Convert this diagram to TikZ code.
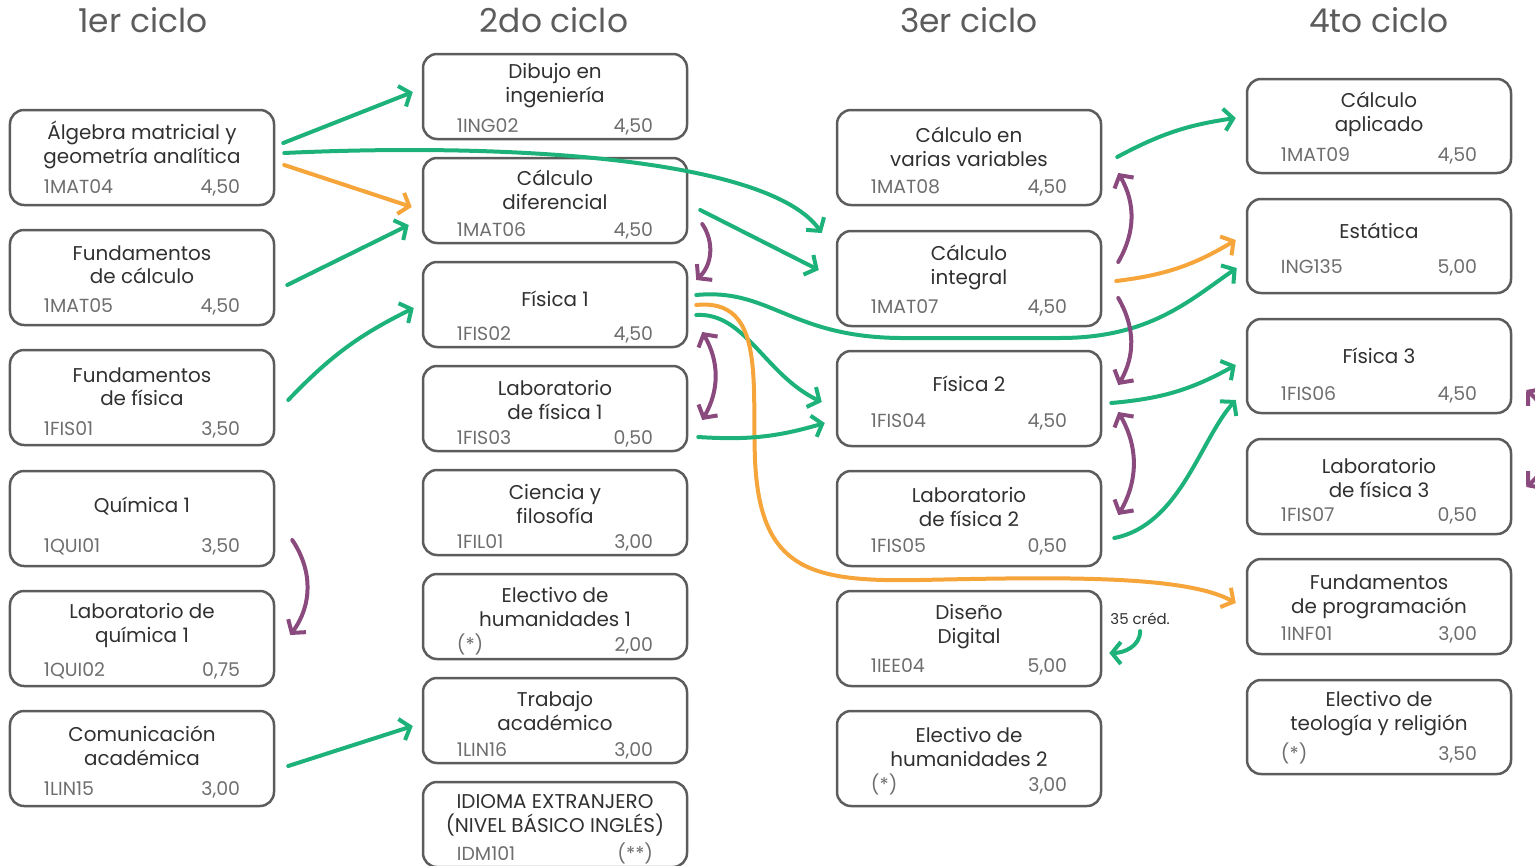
\documentclass[tikz,border=0pt]{standalone}
\usepackage{fontspec}
\setmainfont{Poppins}
\usetikzlibrary{arrows.meta}

\definecolor{borde}{HTML}{5C5C5C}
\definecolor{textoosc}{HTML}{303030}
\definecolor{textogris}{HTML}{6E6E6E}
\definecolor{verde}{HTML}{1DB27A}
\definecolor{naranja}{HTML}{F6A53A}
\definecolor{morado}{HTML}{8A4A7E}

% caja de curso: nombre, x izq, y sup, alto, desplaz. titulo, desplaz. clave, titulo, clave, creditos
\newcommand{\curso}[9]{%
  \node[caja, minimum height=#4bp] (#1) at (#2+132, #3+#4/2) {};
  \node[titulo] at ([yshift=-#5bp-3bp]#1.north) {#7};
  \node[clave, anchor=base west] at ([xshift=35bp, yshift=#6bp]#1.south west) {#8};
  \node[clave, anchor=base east] at ([xshift=-35bp, yshift=#6bp]#1.south east) {#9};
}

\begin{document}
\begin{tikzpicture}[x=1bp, y=-1bp,
  caja/.style={draw=borde, line width=2.5bp, rounded corners=14bp, minimum width=264bp, inner sep=0pt},
  titulo/.style={text=textoosc, align=center, inner sep=0pt, font=\fontsize{20}{24}\selectfont},
  clave/.style={text=textogris, inner sep=0pt, font=\fontsize{19}{22}\selectfont},
  ciclo/.style={text=borde, inner sep=0pt, font=\fontsize{33}{38}\selectfont},
  nota/.style={text=textoosc, inner sep=0pt, font=\fontsize{15}{17}\selectfont},
  flecha/.style={line width=4bp, line cap=round, -{Straight Barb[length=9bp, width=22bp]}},
  verdef/.style={flecha, draw=verde},
  naranjaf/.style={flecha, draw=naranja},
  moradof/.style={flecha, draw=morado},
  moradob/.style={flecha, draw=morado, {Straight Barb[length=9bp, width=22bp]}-{Straight Barb[length=9bp, width=22bp]}}]
  \useasboundingbox (0,0) rectangle (1535,865);
  \clip (0,0) rectangle (1535,865);

  % ciclos
  \node[ciclo] (c1) at (143,20) {1er ciclo};
  \node[ciclo] (c2) at (554,20) {2do ciclo};
  \node[ciclo] (c3) at (969,20) {3er ciclo};
  \node[ciclo] (c4) at (1379,20) {4to ciclo};

  % 1er ciclo
  \curso{alg}{10}{110}{95}{33}{13}{Álgebra matricial y\\geometría analítica}{1MAT04}{4,50}
  \curso{fcal}{10}{230}{95}{33}{14}{Fundamentos\\de cálculo}{1MAT05}{4,50}
  \curso{ffis}{10}{350}{95}{35}{11}{Fundamentos\\de física}{1FIS01}{3,50}
  \curso{qui}{10}{471}{95}{33}{15}{Química 1}{1QUI01}{3,50}
  \curso{lqui}{10}{591}{95}{33}{11}{Laboratorio de\\química 1}{1QUI02}{0,75}
  \curso{com}{10}{711}{95}{33}{12}{Comunicación\\académica}{1LIN15}{3,00}

  % 2do ciclo
  \curso{dib}{423}{54}{85}{30}{8}{Dibujo en\\ingeniería}{1ING02}{4,50}
  \curso{cdif}{423}{158}{85}{30}{8}{Cálculo\\diferencial}{1MAT06}{4,50}
  \curso{fis1}{423}{262}{85}{35}{8}{Física 1}{1FIS02}{4,50}
  \curso{lfis1}{423}{366}{85}{32}{8}{Laboratorio\\de física 1}{1FIS03}{0,50}
  \curso{cfil}{423}{470}{85}{32}{8}{Ciencia y\\filosofía}{1FIL01}{3,00}
  \curso{ehum1}{423}{574}{85}{31}{9}{Electivo de\\humanidades 1}{(*)}{2,00}
  \curso{tacad}{423}{678}{85}{31}{8}{Trabajo\\académico}{1LIN16}{3,00}
  \curso{idm}{423}{782}{85}{32}{8}{IDIOMA EXTRANJERO\\(NIVEL BÁSICO INGLÉS)}{IDM101}{(**)}

  % 3er ciclo
  \curso{cvar}{837}{110}{95}{35}{13}{Cálculo en\\varias variables}{1MAT08}{4,50}
  \curso{cint}{837}{231}{95}{35}{14}{Cálculo\\integral}{1MAT07}{4,50}
  \curso{fis2}{837}{351}{95}{31}{20}{Física 2}{1FIS04}{4,50}
  \curso{lfis2}{837}{471}{95}{34}{15}{Laboratorio\\de física 2}{1FIS05}{0,50}
  \curso{dig}{837}{591}{95}{34}{15}{Diseño\\Digital}{1IEE04}{5,00}
  \curso{ehum2}{837}{711}{95}{34}{16}{Electivo de\\humanidades 2}{(*)}{3,00}

  % 4to ciclo
  \curso{capl}{1247}{79}{94}{34}{13}{Cálculo\\aplicado}{1MAT09}{4,50}
  \curso{est}{1247}{199}{94}{30}{21}{Estática}{ING135}{5,00}
  \curso{fis3}{1247}{319}{94}{35}{14}{Física 3}{1FIS06}{4,50}
  \curso{lfis3}{1247}{439}{95}{37}{14}{Laboratorio\\de física 3}{1FIS07}{0,50}
  \curso{fprog}{1247}{559}{95}{36}{15}{Fundamentos\\de programación}{1INF01}{3,00}
  \curso{eteo}{1247}{680}{94}{32}{15}{Electivo de\\teología y religión}{(*)}{3,50}

  % requisitos desde el 1er ciclo
  \draw[verdef] ([shift={(8,-14.5)}]alg.east) -- ([shift={(-9,-4.5)}]dib.west);
  \draw[verdef] ([shift={(9,-4.5)}]alg.east) .. controls (520,142) and (770,160) .. ([shift={(-14,-45.5)}]cint.west);
  \draw[naranjaf] ([shift={(9,7.5)}]alg.east) -- ([shift={(-10,6.5)}]cdif.west);
  \draw[verdef] ([shift={(12,7.5)}]fcal.east) -- ([shift={(-13,24.5)}]cdif.west);
  \draw[verdef] ([shift={(13,2.5)}]ffis.east) to[bend left=10] ([shift={(-8,3.5)}]fis1.west);
  \draw[verdef] ([shift={(13,7.5)}]com.east) -- ([shift={(-9,5.5)}]tacad.west);
  \draw[moradof] ([shift={(17,21.5)}]qui.east) to[bend left=35] ([shift={(15,-3.5)}]lqui.east);

  % desde el 2do ciclo
  \draw[verdef] ([shift={(12,9.5)}]cdif.east) -- ([shift={(-17,-8.5)}]cint.west);
  \draw[moradof] ([shift={(14,23.5)}]cdif.east) to[bend left=40] ([shift={(8,-24.5)}]fis1.east);
  \draw[verdef] ([shift={(8,-9.5)}]fis1.east) .. controls (770,288) and (790,337) .. (900,338) -- (1060,338) .. controls (1150,338) and (1190,300) .. ([shift={(-9,22)}]est.west);
  \draw[verdef] ([shift={(8,10.5)}]fis1.east) .. controls (745,312) and (765,375) .. ([shift={(-14,3.5)}]fis2.west);
  \draw[naranjaf] ([shift={(8,0.5)}]fis1.east) .. controls (765,298) and (752,380) .. (755,460) .. controls (760,570) and (810,582) .. (920,580) .. controls (1060,577) and (1185,575) .. ([shift={(-10,-3.5)}]fprog.west);
  \draw[moradob] ([shift={(14,27.5)}]fis1.east) to[bend left=30] ([shift={(14,11.5)}]lfis1.east);
  \draw[verdef] ([shift={(10,28.5)}]lfis1.east) to[bend right=10] ([shift={(-11,24.5)}]fis2.west);

  % desde el 3er ciclo
  \draw[verdef] ([shift={(15,-0.5)}]cvar.east) to[bend left=10] ([shift={(-10,-8)}]capl.west);
  \draw[moradof] ([shift={(16,-16.5)}]cint.east) to[bend right=30] ([shift={(16,15.5)}]cvar.east);
  \draw[naranjaf] ([shift={(14,2.5)}]cint.east) to[bend right=12] ([shift={(-10,-6)}]est.west);
  \draw[moradof] ([shift={(16,19.5)}]cint.east) to[bend left=30] ([shift={(16,-13.5)}]fis2.east);
  \draw[verdef] ([shift={(9,4.5)}]fis2.east) to[bend right=12] ([shift={(-10,-1)}]fis3.west);
  \draw[moradob] ([shift={(16,13.5)}]fis2.east) to[bend left=30] ([shift={(16,-3.5)}]lfis2.east);
  \draw[verdef] ([shift={(12,19.5)}]lfis2.east) .. controls (1180,525) and (1200,440) .. ([shift={(-10,34)}]fis3.west);
  \node[nota, anchor=west] (cred) at ([shift={(8,-19.5)}]dig.east) {35 créd.};
  \draw[verdef] ([yshift=-6bp]cred.south) .. controls +(0,15) and +(15,0) .. ([shift={(7,14.5)}]dig.east);

  % 4to ciclo
  \draw[moradob] ([shift={(14,24)}]fis3.east) to[bend left=50] ([shift={(14,0.5)}]lfis3.east);
\end{tikzpicture}
\end{document}
